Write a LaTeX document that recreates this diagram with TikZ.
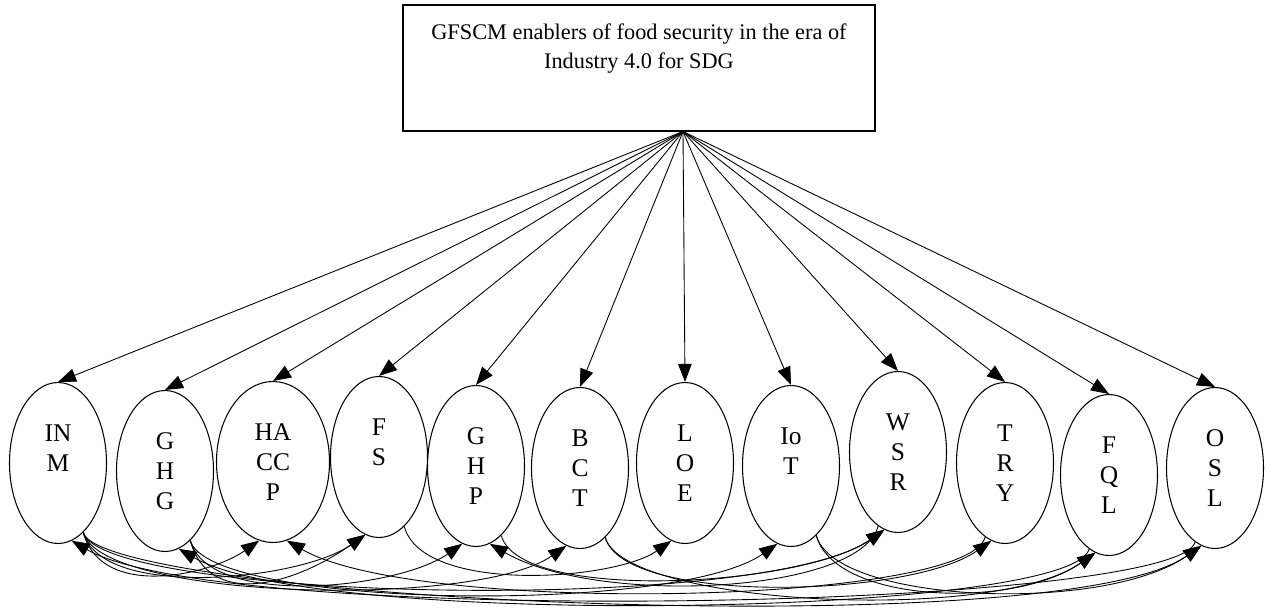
\documentclass[tikz,border=0pt]{standalone}
\usepackage{fontspec}
\setmainfont{Liberation Serif}
\usepackage{tikz}
\usetikzlibrary{positioning}
\usetikzlibrary{shapes,shapes.geometric,arrows.meta}
\tikzstyle{goalbox} = [rectangle, draw, minimum width=9.44cm, minimum height=2.52cm, line width=0.6pt]
\tikzstyle{goaltext} = [draw=none, fill=none, align=center, inner sep=0pt, font=\fontsize{12.7}{16.6}\selectfont]
\tikzstyle{enabler} = [ellipse, draw, align=center, minimum width=1.94cm, minimum height=3.22cm, inner sep=0pt, line width=0.6pt, font=\fontsize{14.5}{17}\selectfont]
\tikzstyle{load} = [draw, line width=0.5pt, -{Triangle[length=0.36cm,width=0.27cm]}]
\tikzstyle{corr} = [draw, line width=0.5pt, -{Triangle[length=0.36cm,width=0.27cm]}]

\begin{document}
\begin{tikzpicture}
\useasboundingbox (0,0) rectangle (25.42,12.3);
	% title box
	\node [goalbox] (goal) at (12.78,10.94) {};
	\node [goaltext, below=0.38cm of goal.north] (title) {GFSCM enablers of food security in the era of\\Industry 4.0 for SDG};
	\coordinate (hub) at ([xshift=0.88cm]goal.south);

	% place enablers
	\node [enabler] (INM)   at (1.16,3.04)  {IN\\M\\\mbox{}};
	\node [enabler] (GHG)   at (3.30,2.88)  {G\\H\\G};
	\node [enabler, minimum width=2.26cm] (HACCP) at (5.46,3.06) {HA\\CC\\P};
	\node [enabler] (FS)    at (7.58,3.16)  {F\\S\\\mbox{}};
	\node [enabler] (GHP)   at (9.52,2.98)  {G\\H\\P};
	\node [enabler] (BCT)   at (11.60,2.94) {B\\C\\T};
	\node [enabler] (LOE)   at (13.70,3.04) {L\\O\\E};
	\node [enabler] (IoT)   at (15.82,2.98) {Io\\T\\\mbox{}};
	\node [enabler] (WSR)   at (17.96,3.26) {W\\S\\R};
	\node [enabler] (TRY)   at (20.10,3.04) {T\\R\\Y};
	\node [enabler] (FQL)   at (22.18,2.80) {F\\Q\\L};
	\node [enabler] (OSL)   at (24.30,2.94) {O\\S\\L};

	% draw edges from the box
	\foreach \n in {INM,GHG,HACCP,FS,GHP,BCT,LOE,IoT,WSR,TRY,FQL,OSL}
		\path [load] (hub) -- (\n.north);

	% draw curved edges, left to right
	\foreach \s/\t/\d in {INM/HACCP/1.2, INM/FS/1.6, GHG/FS/1.8, GHG/GHP/1.6, INM/BCT/2.2,
		FS/LOE/1.4, GHG/IoT/2.5, INM/WSR/3, GHP/WSR/2, BCT/TRY/2, BCT/FQL/2.5,
		IoT/FQL/2, IoT/OSL/2.4, INM/OSL/3.5}
		\path [corr] (\s.290) to[out=-75, in=-145, out distance=1.4cm, in distance=\d cm] (\t.260);

	% draw curved edges, right to left
	\foreach \s/\t/\d in {OSL/INM/3.5, FQL/GHG/3.2, TRY/HACCP/3, WSR/GHP/2.5}
		\path [corr] (\s.255) to[out=-105, in=-30, out distance=1.4cm, in distance=\d cm] (\t.280);
\end{tikzpicture}
\end{document}
